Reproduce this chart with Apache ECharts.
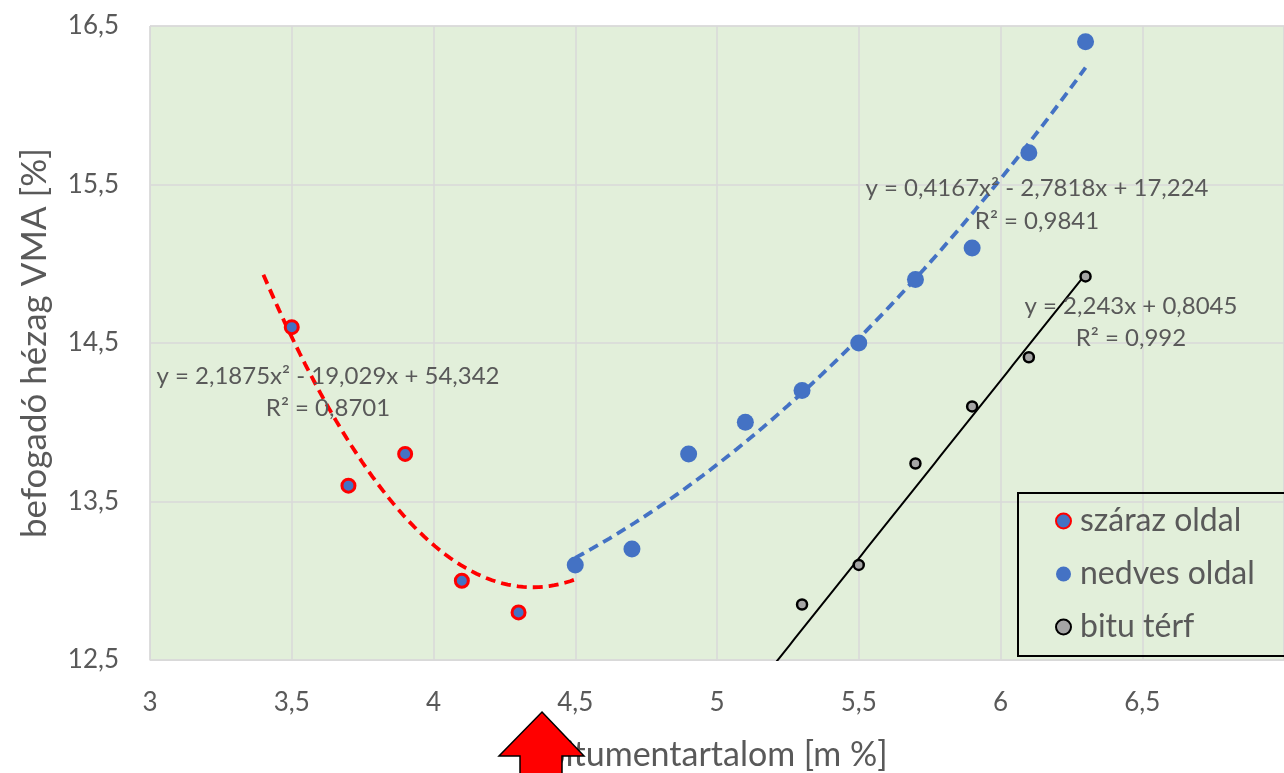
<!DOCTYPE html>
<html>
<head>
<meta charset="utf-8">
<script src="https://cdn.jsdelivr.net/npm/echarts@6/dist/echarts.min.js"></script>
<style>html,body{margin:0;padding:0;background:#fff}#c{width:1284px;height:773px}</style>
</head>
<body>
<div id="c"></div>
<script>
// data
const szarazX = [3.5, 3.7, 3.9, 4.1, 4.3];
const szarazY = [14.6, 13.6, 13.8, 13.0, 12.8];
const nedvesX = [4.5, 4.7, 4.9, 5.1, 5.3, 5.5, 5.7, 5.9, 6.1, 6.3];
const nedvesY = [13.1, 13.2, 13.8, 14.0, 14.2, 14.5, 14.9, 15.1, 15.7, 16.4];
const bituX = [5.3, 5.5, 5.7, 5.9, 6.1, 6.3];
const bituY = [12.85, 13.1, 13.74, 14.1, 14.41, 14.92];
const seriesNames = ['száraz oldal', 'nedves oldal', 'bitu térf'];
// trendline coefficients as printed on the chart (c2, c1, c0) and x ranges
const szarazTrend = [2.1875, -19.029, 54.342];
const szarazTrendRange = [3.4, 4.5];
const nedvesTrend = [0.4167, -2.7818, 17.224];
const nedvesTrendRange = [4.5, 6.3];
const bituTrend = [0, 2.243, 0.8045];
const bituTrendRange = [5.2, 6.3];
const eqTexts = [
  ['y = 2,1875x² - 19,029x + 54,342', 'R² = 0,8701'],
  ['y = 0,4167x² - 2,7818x + 17,224', 'R² = 0,9841'],
  ['y = 2,243x + 0,8045', 'R² = 0,992']
];
const xTitle = 'bitumentartalom [m %]';
const yTitle = 'befogadó hézag VMA [%]';

function zip(xs, ys) { return xs.map((x, i) => [x, ys[i]]); }
function trend(c, r) {
  const pts = [];
  const n = 60;
  for (let i = 0; i <= n; i++) {
    const x = r[0] + (r[1] - r[0]) * i / n;
    pts.push([x, c[0] * x * x + c[1] * x + c[2]]);
  }
  return pts;
}
const fmt = v => String(v).replace('.', ',');
const FONT = 'Lato';
const GREY = '#595959';

const chart = echarts.init(document.getElementById('c'));
const eqStyle = (x, y, t) => ({
  type: 'text', x: x, y: y, z: 50,
  style: { text: t, textAlign: 'center', textVerticalAlign: 'middle', fill: GREY, font: '24px ' + FONT }
});
chart.setOption({
  animation: false,
  textStyle: { fontFamily: FONT },
  grid: {
    left: 150, top: 26, right: 0, bottom: 113,
    outerBoundsMode: 'none', containLabel: false,
    show: true, backgroundColor: '#E2EFDA', borderColor: '#D9D9D9', borderWidth: 1
  },
  xAxis: {
    type: 'value', min: 3, max: 7, interval: 0.5,
    name: xTitle, nameLocation: 'middle', nameGap: 78,
    nameTextStyle: { fontSize: 34, color: GREY, fontFamily: FONT },
    axisLine: { show: true, lineStyle: { color: '#D9D9D9' } },
    axisTick: { show: false },
    axisLabel: { fontSize: 26, color: GREY, margin: 30, formatter: fmt, showMaxLabel: false, fontFamily: FONT },
    splitLine: { show: true, lineStyle: { color: '#D9D9D9', width: 1.5 } }
  },
  yAxis: {
    type: 'value', min: 12.5, max: 16.5, interval: 1,
    name: yTitle, nameLocation: 'middle', nameGap: 98, nameRotate: 90,
    nameTextStyle: { fontSize: 35, color: GREY, fontFamily: FONT },
    axisLine: { show: true, lineStyle: { color: '#D9D9D9' } },
    axisTick: { show: false },
    axisLabel: { fontSize: 26, color: GREY, margin: 31, formatter: fmt, fontFamily: FONT },
    splitLine: { show: true, lineStyle: { color: '#D9D9D9', width: 1.5 } }
  },
  legend: {
    data: seriesNames,
    orient: 'vertical',
    left: 1018, top: 493,
    padding: [12, 80, 13, 37],
    itemGap: 21,
    itemWidth: 15, itemHeight: 15,
    borderColor: '#000', borderWidth: 2,
    backgroundColor: 'transparent',
    textStyle: { fontSize: 32, color: GREY, fontFamily: FONT, padding: [0, 0, 0, 4] }
  },
  series: [
    { name: 'trend1', type: 'line', data: trend(szarazTrend, szarazTrendRange), showSymbol: false, smooth: false,
      lineStyle: { color: '#FF0000', width: 3.8, type: [10, 6] }, z: 2, silent: true },
    { name: 'trend2', type: 'line', data: trend(nedvesTrend, nedvesTrendRange), showSymbol: false,
      lineStyle: { color: '#4472C4', width: 3.8, type: [10, 6] }, z: 2, silent: true },
    { name: 'trend3', type: 'line', data: trend(bituTrend, bituTrendRange), showSymbol: false,
      lineStyle: { color: '#000000', width: 2 }, z: 2, silent: true },
    { name: seriesNames[0], type: 'scatter', data: zip(szarazX, szarazY), symbolSize: 13,
      itemStyle: { color: '#4472C4', borderColor: '#FF0000', borderWidth: 3, opacity: 1 }, z: 5 },
    { name: seriesNames[1], type: 'scatter', data: zip(nedvesX, nedvesY), symbolSize: 17,
      itemStyle: { color: '#4472C4', opacity: 1 }, z: 5 },
    { name: seriesNames[2], type: 'scatter', data: zip(bituX, bituY), symbolSize: 10,
      itemStyle: { color: '#A5A5A5', borderColor: '#000000', borderWidth: 2.5, opacity: 1 }, z: 5 }
  ],
  graphic: [
    eqStyle(328, 376, eqTexts[0][0]), eqStyle(328, 408, eqTexts[0][1]),
    eqStyle(1037, 188, eqTexts[1][0]), eqStyle(1037, 221, eqTexts[1][1]),
    eqStyle(1131, 306, eqTexts[2][0]), eqStyle(1131, 338, eqTexts[2][1]),
    { type: 'polygon', z: 100,
      shape: { points: [[542, 712], [584, 756], [562, 756], [562, 790], [520, 790], [520, 756], [499, 756]] },
      style: { fill: '#FF0000', stroke: '#000000', lineWidth: 1.5 } }
  ]
});
</script>
</body>
</html>
